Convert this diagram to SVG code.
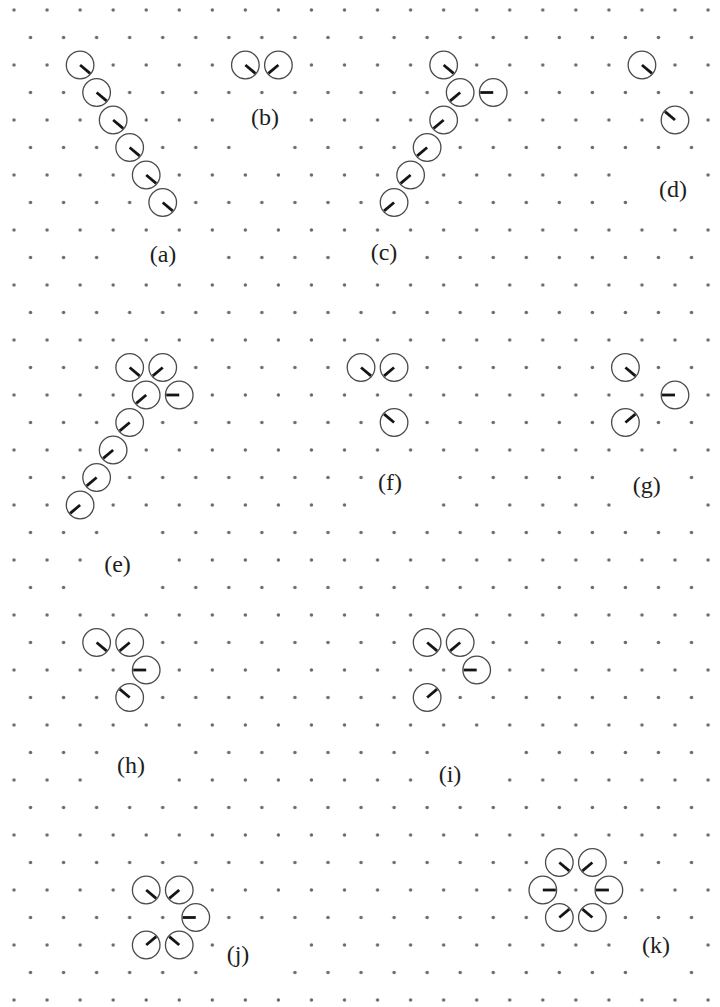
<svg xmlns="http://www.w3.org/2000/svg" width="720" height="1007" viewBox="0 0 720 1007">
<style>
.c{fill:#fff;stroke:#4a4a4a;stroke-width:1.3}
.n{stroke:#151515;stroke-width:2.8;stroke-linecap:butt}
.lb{font-family:"Liberation Serif","Times New Roman",serif;font-size:24px;fill:#1e1e1e;text-anchor:middle}
.dot{fill:#6a6a6a}
</style>
<defs>
<pattern id="lat" x="0" y="0" width="33.05" height="55" patternUnits="userSpaceOnUse">
<circle class="dot" cx="14" cy="10" r="1.75"/>
<circle class="dot" cx="30.525" cy="37.5" r="1.75"/>
</pattern>
<mask id="gaps" maskUnits="userSpaceOnUse" x="0" y="0" width="720" height="1007">
<rect x="0" y="0" width="720" height="1007" fill="#fff"/>
<g fill="#000">
<circle cx="129.675" cy="257.5" r="5"/><circle cx="162.725" cy="257.5" r="5"/><circle cx="195.775" cy="257.5" r="5"/>
<circle cx="245.35" cy="120" r="5"/><circle cx="278.4" cy="120" r="5"/><circle cx="261.875" cy="147.5" r="5"/>
<circle cx="361.025" cy="257.5" r="5"/><circle cx="394.075" cy="257.5" r="5"/>
<circle cx="641.95" cy="175" r="5"/><circle cx="675" cy="175" r="5"/><circle cx="658.475" cy="202.5" r="5"/><circle cx="691.525" cy="202.5" r="5"/>
<circle cx="129.675" cy="532.5" r="5"/><circle cx="113.15" cy="560" r="5"/><circle cx="146.2" cy="560" r="5"/><circle cx="96.625" cy="587.5" r="5"/><circle cx="129.675" cy="587.5" r="5"/>
<circle cx="394.075" cy="477.5" r="5"/><circle cx="427.125" cy="477.5" r="5"/><circle cx="377.55" cy="505" r="5"/><circle cx="410.6" cy="505" r="5"/>
<circle cx="625.425" cy="477.5" r="5"/><circle cx="658.475" cy="477.5" r="5"/><circle cx="641.95" cy="505" r="5"/><circle cx="675" cy="505" r="5"/>
<circle cx="129.675" cy="752.5" r="5"/><circle cx="162.725" cy="752.5" r="5"/><circle cx="113.15" cy="780" r="5"/><circle cx="146.2" cy="780" r="5"/>
<circle cx="460.175" cy="752.5" r="5"/><circle cx="493.225" cy="752.5" r="5"/><circle cx="443.65" cy="780" r="5"/><circle cx="476.7" cy="780" r="5"/>
<circle cx="245.35" cy="945" r="5"/><circle cx="278.4" cy="945" r="5"/><circle cx="228.825" cy="972.5" r="5"/><circle cx="261.875" cy="972.5" r="5"/>
<circle cx="641.95" cy="945" r="5"/><circle cx="675" cy="945" r="5"/><circle cx="658.475" cy="972.5" r="5"/>
</g>
</mask>
</defs>
<rect x="0" y="0" width="720" height="1007" fill="#fff"/>
<g id="lattice"><rect x="0" y="0" width="720" height="1007" fill="url(#lat)" mask="url(#gaps)"/></g>

<g id="panel-a">
<g id="a1" transform="translate(80.1,65)"><circle class="c" r="13.8"/><line class="n" x2="9.96" y2="8.36"/></g>
<g id="a2" transform="translate(96.625,92.5)"><circle class="c" r="13.8"/><line class="n" x2="9.96" y2="8.36"/></g>
<g id="a3" transform="translate(113.15,120)"><circle class="c" r="13.8"/><line class="n" x2="9.96" y2="8.36"/></g>
<g id="a4" transform="translate(129.675,147.5)"><circle class="c" r="13.8"/><line class="n" x2="9.96" y2="8.36"/></g>
<g id="a5" transform="translate(146.2,175)"><circle class="c" r="13.8"/><line class="n" x2="9.96" y2="8.36"/></g>
<g id="a6" transform="translate(162.725,202.5)"><circle class="c" r="13.8"/><line class="n" x2="9.96" y2="8.36"/></g>
<text class="lb" x="163" y="262">(a)</text>
</g>

<g id="panel-b">
<g id="b1" transform="translate(245.35,65)"><circle class="c" r="13.8"/><line class="n" x2="9.96" y2="8.36"/></g>
<g id="b2" transform="translate(278.4,65)"><circle class="c" r="13.8"/><line class="n" x2="-9.96" y2="8.36"/></g>
<text class="lb" x="265" y="125">(b)</text>
</g>

<g id="panel-c">
<g id="c1" transform="translate(443.65,65)"><circle class="c" r="13.8"/><line class="n" x2="9.96" y2="8.36"/></g>
<g id="c2" transform="translate(460.175,92.5)"><circle class="c" r="13.8"/><line class="n" x2="-9.96" y2="8.36"/></g>
<g id="c3" transform="translate(493.225,92.5)"><circle class="c" r="13.8"/><line class="n" x2="-13" y2="0"/></g>
<g id="c4" transform="translate(443.65,120)"><circle class="c" r="13.8"/><line class="n" x2="-9.96" y2="8.36"/></g>
<g id="c5" transform="translate(427.125,147.5)"><circle class="c" r="13.8"/><line class="n" x2="-9.96" y2="8.36"/></g>
<g id="c6" transform="translate(410.6,175)"><circle class="c" r="13.8"/><line class="n" x2="-9.96" y2="8.36"/></g>
<g id="c7" transform="translate(394.075,202.5)"><circle class="c" r="13.8"/><line class="n" x2="-9.96" y2="8.36"/></g>
<text class="lb" x="384" y="260">(c)</text>
</g>

<g id="panel-d">
<g id="d1" transform="translate(641.95,65)"><circle class="c" r="13.8"/><line class="n" x2="9.96" y2="8.36"/></g>
<g id="d2" transform="translate(675,120)"><circle class="c" r="13.8"/><line class="n" x2="-9.96" y2="-8.36"/></g>
<text class="lb" x="673" y="197">(d)</text>
</g>

<g id="panel-e">
<g id="e1" transform="translate(129.675,367.5)"><circle class="c" r="13.8"/><line class="n" x2="9.96" y2="8.36"/></g>
<g id="e2" transform="translate(162.725,367.5)"><circle class="c" r="13.8"/><line class="n" x2="-9.96" y2="8.36"/></g>
<g id="e3" transform="translate(146.2,395)"><circle class="c" r="13.8"/><line class="n" x2="-9.96" y2="8.36"/></g>
<g id="e4" transform="translate(179.25,395)"><circle class="c" r="13.8"/><line class="n" x2="-13" y2="0"/></g>
<g id="e5" transform="translate(129.675,422.5)"><circle class="c" r="13.8"/><line class="n" x2="-9.96" y2="8.36"/></g>
<g id="e6" transform="translate(113.15,450)"><circle class="c" r="13.8"/><line class="n" x2="-9.96" y2="8.36"/></g>
<g id="e7" transform="translate(96.625,477.5)"><circle class="c" r="13.8"/><line class="n" x2="-9.96" y2="8.36"/></g>
<g id="e8" transform="translate(80.1,505)"><circle class="c" r="13.8"/><line class="n" x2="-9.96" y2="8.36"/></g>
<text class="lb" x="117.5" y="572">(e)</text>
</g>

<g id="panel-f">
<g id="f1" transform="translate(361.025,367.5)"><circle class="c" r="13.8"/><line class="n" x2="9.96" y2="8.36"/></g>
<g id="f2" transform="translate(394.075,367.5)"><circle class="c" r="13.8"/><line class="n" x2="-9.96" y2="8.36"/></g>
<g id="f3" transform="translate(394.075,422.5)"><circle class="c" r="13.8"/><line class="n" x2="-9.96" y2="-8.36"/></g>
<text class="lb" x="390" y="490">(f)</text>
</g>

<g id="panel-g">
<g id="g1" transform="translate(625.425,367.5)"><circle class="c" r="13.8"/><line class="n" x2="9.96" y2="8.36"/></g>
<g id="g2" transform="translate(675,395)"><circle class="c" r="13.8"/><line class="n" x2="-13" y2="0"/></g>
<g id="g3" transform="translate(625.425,422.5)"><circle class="c" r="13.8"/><line class="n" x2="9.96" y2="-8.36"/></g>
<text class="lb" x="646.7" y="493">(g)</text>
</g>

<g id="panel-h">
<g id="h1" transform="translate(96.625,642.5)"><circle class="c" r="13.8"/><line class="n" x2="9.96" y2="8.36"/></g>
<g id="h2" transform="translate(129.675,642.5)"><circle class="c" r="13.8"/><line class="n" x2="-9.96" y2="8.36"/></g>
<g id="h3" transform="translate(146.2,670)"><circle class="c" r="13.8"/><line class="n" x2="-13" y2="0"/></g>
<g id="h4" transform="translate(129.675,697.5)"><circle class="c" r="13.8"/><line class="n" x2="-9.96" y2="-8.36"/></g>
<text class="lb" x="131" y="773">(h)</text>
</g>

<g id="panel-i">
<g id="i1" transform="translate(427.125,642.5)"><circle class="c" r="13.8"/><line class="n" x2="9.96" y2="8.36"/></g>
<g id="i2" transform="translate(460.175,642.5)"><circle class="c" r="13.8"/><line class="n" x2="-9.96" y2="8.36"/></g>
<g id="i3" transform="translate(476.7,670)"><circle class="c" r="13.8"/><line class="n" x2="-13" y2="0"/></g>
<g id="i4" transform="translate(427.125,697.5)"><circle class="c" r="13.8"/><line class="n" x2="9.96" y2="-8.36"/></g>
<text class="lb" x="450" y="782">(i)</text>
</g>

<g id="panel-j">
<g id="j1" transform="translate(146.2,890)"><circle class="c" r="13.8"/><line class="n" x2="9.96" y2="8.36"/></g>
<g id="j2" transform="translate(179.25,890)"><circle class="c" r="13.8"/><line class="n" x2="-9.96" y2="8.36"/></g>
<g id="j3" transform="translate(195.775,917.5)"><circle class="c" r="13.8"/><line class="n" x2="-13" y2="0"/></g>
<g id="j4" transform="translate(146.2,945)"><circle class="c" r="13.8"/><line class="n" x2="9.96" y2="-8.36"/></g>
<g id="j5" transform="translate(179.25,945)"><circle class="c" r="13.8"/><line class="n" x2="-9.96" y2="-8.36"/></g>
<text class="lb" x="238" y="962">(j)</text>
</g>

<g id="panel-k">
<g id="k1" transform="translate(559.325,862.5)"><circle class="c" r="13.8"/><line class="n" x2="9.96" y2="8.36"/></g>
<g id="k2" transform="translate(592.375,862.5)"><circle class="c" r="13.8"/><line class="n" x2="-9.96" y2="8.36"/></g>
<g id="k3" transform="translate(542.8,890)"><circle class="c" r="13.8"/><line class="n" x2="13" y2="0"/></g>
<g id="k4" transform="translate(608.9,890)"><circle class="c" r="13.8"/><line class="n" x2="-13" y2="0"/></g>
<g id="k5" transform="translate(559.325,917.5)"><circle class="c" r="13.8"/><line class="n" x2="9.96" y2="-8.36"/></g>
<g id="k6" transform="translate(592.375,917.5)"><circle class="c" r="13.8"/><line class="n" x2="-9.96" y2="-8.36"/></g>
<text class="lb" x="656" y="953">(k)</text>
</g>
</svg>
